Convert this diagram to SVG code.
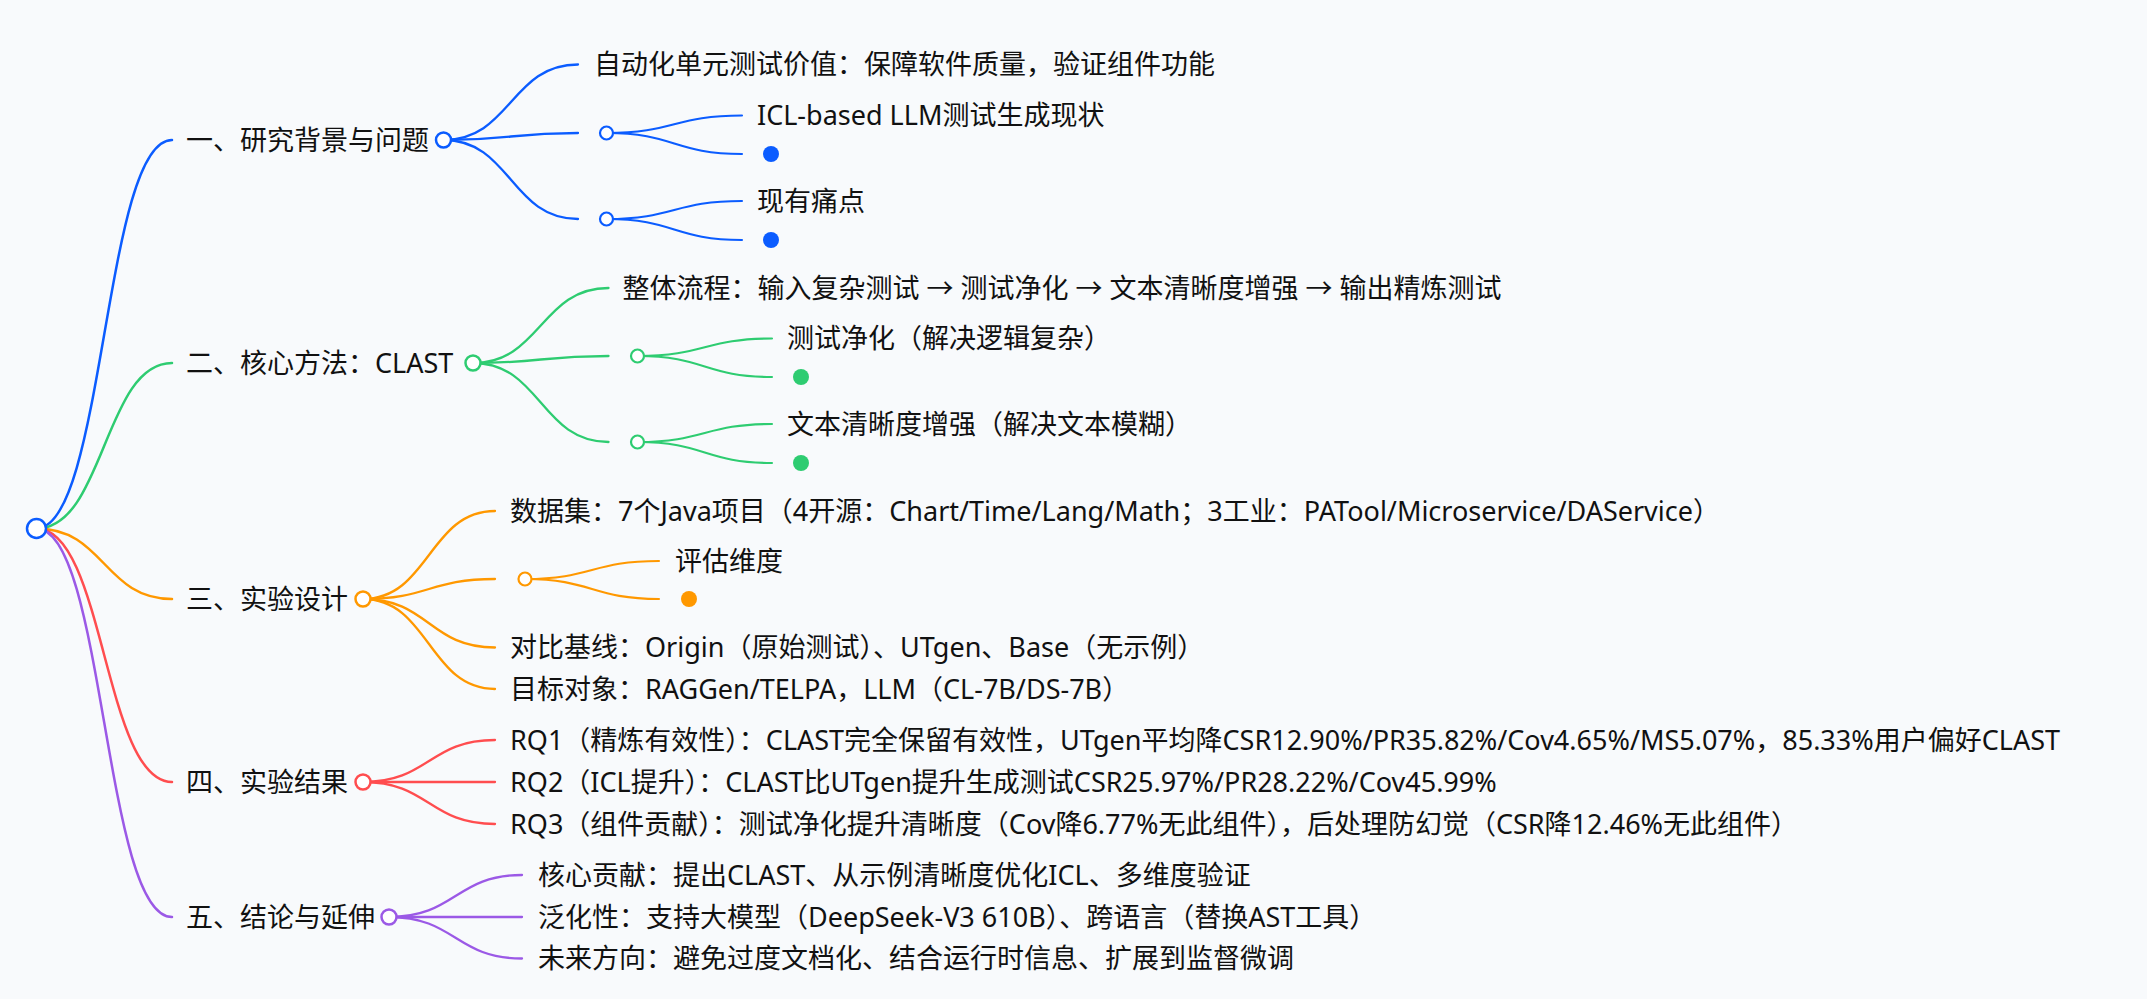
<svg xmlns="http://www.w3.org/2000/svg" width="2147" height="999" viewBox="0 0 2147 999">
<style>
text{font-family:"Noto Sans","Noto Sans CJK SC",sans-serif;font-size:27px;fill:#111;}
.l{fill:none;stroke-linecap:round;}
.w1{stroke-width:2.5;}
.w2{stroke-width:2.3;}
.w3{stroke-width:2.1;}
.b{stroke:#0b5cff;}
.g{stroke:#2ecc71;}
.o{stroke:#ff9800;}
.r{stroke:#ff4d4f;}
.p{stroke:#9b59e6;}
.c1{fill:#fff;stroke-width:2.5;}
.c2{fill:#fff;stroke-width:2.2;}
</style>
<rect width="2147" height="999" fill="#f8fafc"/>
<g id="connectors">
<path class="l w1 b" d="M36.5,528.5 C104.25,528.5 104.25,140 172,140"/>
<path class="l w1 g" d="M36.5,528.5 C104.25,528.5 104.25,363 172,363"/>
<path class="l w1 o" d="M36.5,528.5 C104.25,528.5 104.25,599 172,599"/>
<path class="l w1 r" d="M36.5,528.5 C104.25,528.5 104.25,782 172,782"/>
<path class="l w1 p" d="M36.5,528.5 C104.25,528.5 104.25,917 172,917"/>
<path class="l w2 b" d="M443.5,140 C510.75,140 510.75,64.5 578,64.5"/>
<path class="l w2 b" d="M443.5,140 C510.75,140 510.75,133 578,133"/>
<path class="l w2 b" d="M443.5,140 C510.75,140 510.75,219 578,219"/>
<path class="l w3 b" d="M606.5,133 C674.25,133 674.25,115.5 742,115.5"/>
<path class="l w3 b" d="M606.5,133 C674.25,133 674.25,154 742,154"/>
<path class="l w3 b" d="M606.5,219 C674.25,219 674.25,201 742,201"/>
<path class="l w3 b" d="M606.5,219 C674.25,219 674.25,240 742,240"/>
<path class="l w2 g" d="M473,363 C540.75,363 540.75,288 608.5,288"/>
<path class="l w2 g" d="M473,363 C540.75,363 540.75,356 608.5,356"/>
<path class="l w2 g" d="M473,363 C540.75,363 540.75,442 608.5,442"/>
<path class="l w3 g" d="M637.5,356 C704.75,356 704.75,338.5 772,338.5"/>
<path class="l w3 g" d="M637.5,356 C704.75,356 704.75,377 772,377"/>
<path class="l w3 g" d="M637.5,442 C704.75,442 704.75,424 772,424"/>
<path class="l w3 g" d="M637.5,442 C704.75,442 704.75,463 772,463"/>
<path class="l w2 o" d="M363,599 C429,599 429,511 495,511"/>
<path class="l w2 o" d="M363,599 C429,599 429,579 495,579"/>
<path class="l w2 o" d="M363,599 C429,599 429,647.5 495,647.5"/>
<path class="l w2 o" d="M363,599 C429,599 429,689 495,689"/>
<path class="l w3 o" d="M525,579 C592,579 592,561 659,561"/>
<path class="l w3 o" d="M525,579 C592,579 592,599 659,599"/>
<path class="l w2 r" d="M363,782 C429,782 429,740 495,740"/>
<path class="l w2 r" d="M363,782 C429,782 429,782 495,782"/>
<path class="l w2 r" d="M363,782 C429,782 429,824 495,824"/>
<path class="l w2 p" d="M389,917 C455.5,917 455.5,875 522,875"/>
<path class="l w2 p" d="M389,917 C455.5,917 455.5,917 522,917"/>
<path class="l w2 p" d="M389,917 C455.5,917 455.5,958.5 522,958.5"/>
</g>
<g id="root"><circle class="c1 b" cx="36.5" cy="528.5" r="9.5"/></g>
<g id="n1"><text x="186" y="149.5">一、研究背景与问题</text><circle class="c1 b" cx="443.5" cy="140" r="7.5"/></g>
<g id="n1-1"><text x="594" y="74">自动化单元测试价值：保障软件质量，验证组件功能</text></g>
<g id="n1-2"><circle class="c2 b" cx="606.5" cy="133" r="6.5"/></g>
<g id="n1-2-1"><text x="757" y="125">ICL-based LLM测试生成现状</text></g>
<g id="n1-2-2"><circle cx="771" cy="154" r="8" fill="#0b5cff"/></g>
<g id="n1-3"><circle class="c2 b" cx="606.5" cy="219" r="6.5"/></g>
<g id="n1-3-1"><text x="757" y="210.5">现有痛点</text></g>
<g id="n1-3-2"><circle cx="771" cy="240" r="8" fill="#0b5cff"/></g>
<g id="n2"><text x="186" y="372.5">二、核心方法：CLAST</text><circle class="c1 g" cx="473" cy="363" r="7.5"/></g>
<g id="n2-1"><text x="622.5" y="297.5">整体流程：输入复杂测试 → 测试净化 → 文本清晰度增强 → 输出精炼测试</text></g>
<g id="n2-2"><circle class="c2 g" cx="637.5" cy="356" r="6.5"/></g>
<g id="n2-2-1"><text x="787" y="348">测试净化（解决逻辑复杂）</text></g>
<g id="n2-2-2"><circle cx="801" cy="377" r="8" fill="#2ecc71"/></g>
<g id="n2-3"><circle class="c2 g" cx="637.5" cy="442" r="6.5"/></g>
<g id="n2-3-1"><text x="787" y="433.5">文本清晰度增强（解决文本模糊）</text></g>
<g id="n2-3-2"><circle cx="801" cy="463" r="8" fill="#2ecc71"/></g>
<g id="n3"><text x="186" y="608.5">三、实验设计</text><circle class="c1 o" cx="363" cy="599" r="7.5"/></g>
<g id="n3-1"><text x="510" y="520.5">数据集：7个Java项目（4开源：Chart/Time/Lang/Math；3工业：PATool/Microservice/DAService）</text></g>
<g id="n3-2"><circle class="c2 o" cx="525" cy="579" r="6.5"/></g>
<g id="n3-2-1"><text x="675" y="570.5">评估维度</text></g>
<g id="n3-2-2"><circle cx="689" cy="599" r="8" fill="#ff9800"/></g>
<g id="n3-3"><text x="510" y="657">对比基线：Origin（原始测试）、UTgen、Base（无示例）</text></g>
<g id="n3-4"><text x="510" y="698.5">目标对象：RAGGen/TELPA，LLM（CL-7B/DS-7B）</text></g>
<g id="n4"><text x="186" y="791.5">四、实验结果</text><circle class="c1 r" cx="363" cy="782" r="7.5"/></g>
<g id="n4-1"><text x="510" y="749.5">RQ1（精炼有效性）：CLAST完全保留有效性，UTgen平均降CSR12.90%/PR35.82%/Cov4.65%/MS5.07%，85.33%用户偏好CLAST</text></g>
<g id="n4-2"><text x="510" y="791.5">RQ2（ICL提升）：CLAST比UTgen提升生成测试CSR25.97%/PR28.22%/Cov45.99%</text></g>
<g id="n4-3"><text x="510" y="833.5">RQ3（组件贡献）：测试净化提升清晰度（Cov降6.77%无此组件），后处理防幻觉（CSR降12.46%无此组件）</text></g>
<g id="n5"><text x="186" y="926.5">五、结论与延伸</text><circle class="c1 p" cx="389" cy="917" r="7.5"/></g>
<g id="n5-1"><text x="538" y="884.5">核心贡献：提出CLAST、从示例清晰度优化ICL、多维度验证</text></g>
<g id="n5-2"><text x="538" y="926.5">泛化性：支持大模型（DeepSeek-V3 610B）、跨语言（替换AST工具）</text></g>
<g id="n5-3"><text x="538" y="968">未来方向：避免过度文档化、结合运行时信息、扩展到监督微调</text></g>
</svg>
